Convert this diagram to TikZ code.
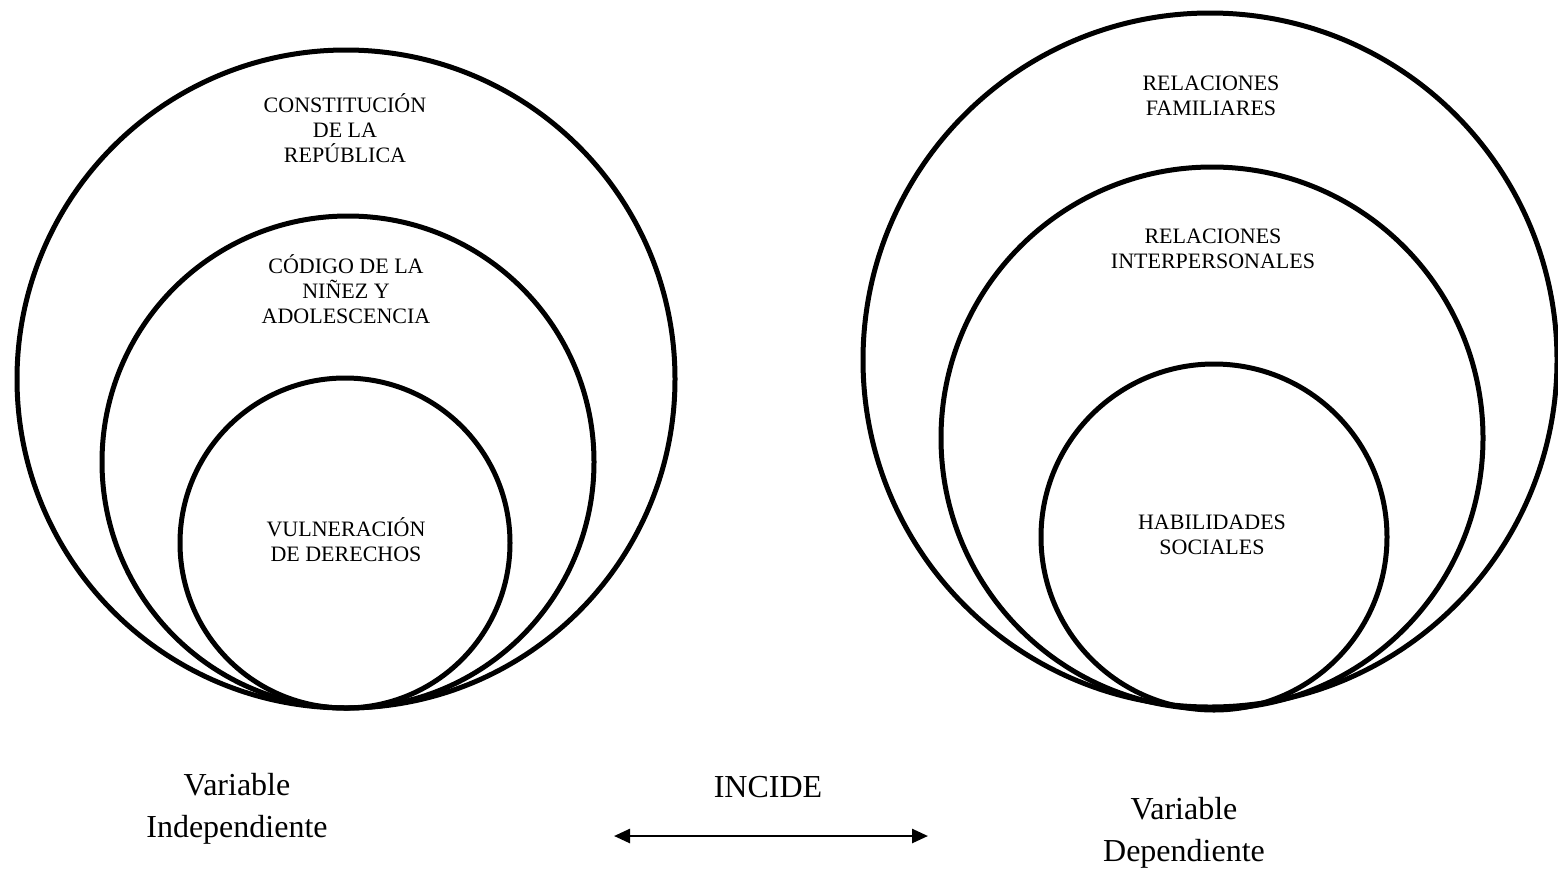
\documentclass[tikz,border=0pt]{standalone}
\usepackage{fontspec}
\setmainfont{Liberation Serif}
\usepackage{tikz}
\usetikzlibrary{arrows.meta}

\tikzset{
    ring/.style={line width=2.5pt},
    inlabel/.style={align=center, inner sep=0pt, font=\fontsize{11}{12.5}\selectfont},
    varlabel/.style={align=center, inner sep=0pt, font=\fontsize{16}{21}\selectfont}
}

\begin{document}
\begin{tikzpicture}[x=0.5pt,y=-0.5pt]
        \useasboundingbox (0,0) rectangle (1558,874);
        \foreach \cx/\cy/\r in { 346/379/329, 348/462/246, 345/543/165,
                                 1210/360/347, 1212/438/271, 1214/537/173 } {
            \draw[ring] (\cx,\cy) circle [radius=\r];
        }
        \node[inlabel] (constitucion) at (345,128) {CONSTITUCIÓN\\DE LA\\REPÚBLICA};
        \node[inlabel] (codigo) at (346,289) {CÓDIGO DE LA\\NIÑEZ Y\\ADOLESCENCIA};
        \node[inlabel] (vulneracion) at (346,540) {VULNERACIÓN\\DE DERECHOS};
        \node[inlabel] (familiares) at (1211,96) {RELACIONES\\FAMILIARES};
        \node[inlabel] (interpersonales) at (1213,249) {RELACIONES\\INTERPERSONALES};
        \node[inlabel] (habilidades) at (1212,535) {HABILIDADES\\SOCIALES};
        \node[varlabel] (independiente) at (237,809) {Variable\\Independiente};
        \node[varlabel] (incide) at (768,787) {INCIDE};
        \node[varlabel] (dependiente) at (1184,833) {Variable\\Dependiente};
        \coordinate (arrowL) at (614,836);
        \coordinate (arrowR) at (928,836);
        \draw[line width=1.3pt, {Triangle[length=8pt,width=7pt]}-{Triangle[length=8pt,width=7pt]}] (arrowL) -- (arrowR);
        \end{tikzpicture}
\end{document}
